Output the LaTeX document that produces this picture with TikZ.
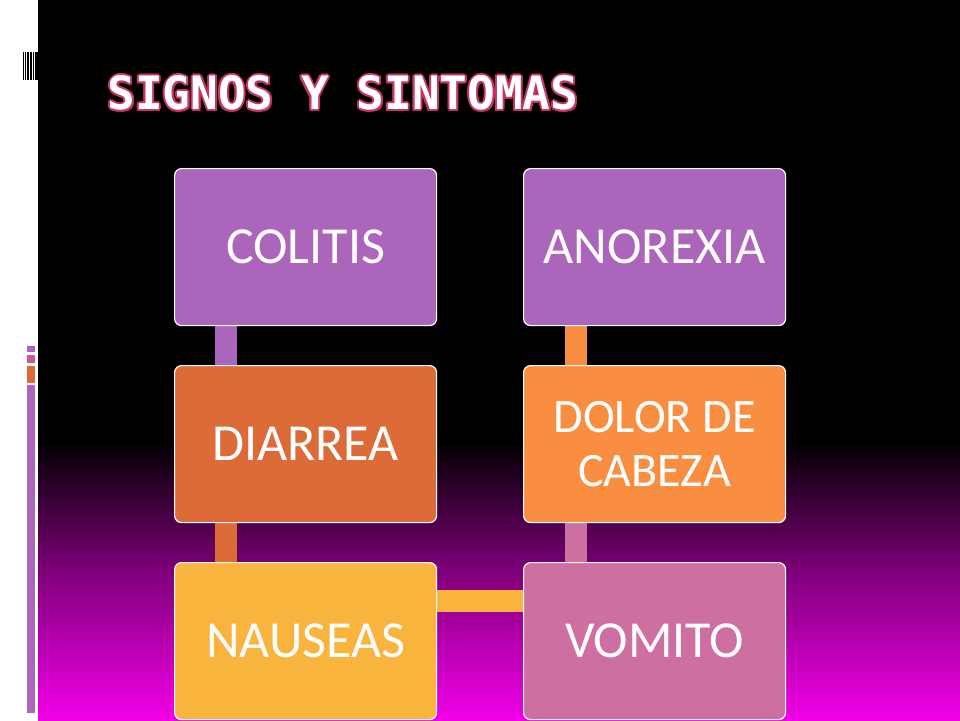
\documentclass[tikz,border=0pt]{standalone}
\usepackage{fontspec}
\setmainfont{Carlito}
\newfontfamily\titlefont{DejaVu Sans Mono}
\begin{document}
\begin{tikzpicture}[x=1pt,y=-1pt,
  box/.style={draw=white,line width=1.2pt,rounded corners=7pt,minimum width=262pt,minimum height=157pt,inner sep=0pt,text=white,font=\fontsize{52}{58}\selectfont,align=center,anchor=north west},
  link/.style={line width=22pt},
  ttl/.style={anchor=west,font=\titlefont\bfseries\fontsize{46}{50}\selectfont}]
\definecolor{cpur}{HTML}{AB66BB}
\definecolor{cora}{HTML}{DD6B37}
\definecolor{cyel}{HTML}{F8B43C}
\definecolor{cpink}{HTML}{CE6FA2}
\definecolor{cora2}{HTML}{F98E40}
\definecolor{mag}{HTML}{F200E8}
\definecolor{tpink}{HTML}{C8336A}
\useasboundingbox (0,0) rectangle (960,720);
\fill[white] (0,0) rectangle (960,720);
\fill[black] (38,0) rectangle (960,440);
\shade[top color=black,bottom color=mag,middle color=mag!55!black] (38,440) rectangle (960,720);
% barcode
\foreach \x/\w in {23/1,25/1,27/1.5,30/2,33/1,35/2.5}{\fill[black] (\x,52) rectangle ++(\w,28);}
% left bars
\fill[cpur] (27,346) rectangle (35,352);
\fill[cpink!80!purple] (27,355) rectangle (35,363);
\fill[cora] (27,366) rectangle (35,383);
\fill[cpur] (27,385) rectangle (35,713);
% title
\foreach \dx/\dy in {-2/0,2/0,0/-2,0/2,-1.5/-1.5,1.5/1.5,-1.5/1.5,1.5/-1.5}{
  \node[ttl,text=tpink] at (104+\dx,93+\dy) {SIGNOS Y SINTOMAS};}
\node (title) [ttl,text=white] at (104,93) {SIGNOS Y SINTOMAS};
% links
\coordinate (l1a) at (226,325); \coordinate (l1b) at (226,365);
\coordinate (l2a) at (226,522); \coordinate (l2b) at (226,562);
\coordinate (l3a) at (437,601); \coordinate (l3b) at (523,601);
\coordinate (l4a) at (576,522); \coordinate (l4b) at (576,562);
\coordinate (l5a) at (576,325); \coordinate (l5b) at (576,365);
\draw[link,cpur] (l1a) -- (l1b);
\draw[link,cora] (l2a) -- (l2b);
\draw[link,cyel] (l3a) -- (l3b);
\draw[link,cpink] (l4a) -- (l4b);
\draw[link,cora2] (l5a) -- (l5b);
% boxes
\node (colitis) [box,fill=cpur] at (174,168) {COLITIS};
\node (diarrea) [box,fill=cora] at (174,365) {DIARREA};
\node (nauseas) [box,fill=cyel] at (174,562) {NAUSEAS};
\node (anorexia) [box,fill=cpur] at (523,168) {ANOREXIA};
\node (dolor) [box,fill=cora2,font=\fontsize{48}{54}\selectfont] at (523,365) {DOLOR DE\\CABEZA};
\node (vomito) [box,fill=cpink] at (523,562) {VOMITO};
\end{tikzpicture}
\end{document}
